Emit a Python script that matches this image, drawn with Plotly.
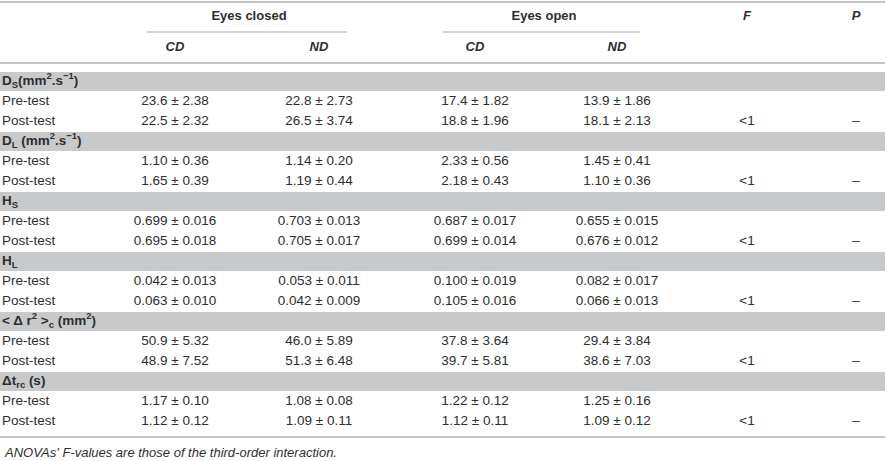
import plotly.graph_objects as go

# measures (group rows) and their values: order is EC-CD, EC-ND, EO-CD, EO-ND
measures = [
    "D<sub>S</sub>(mm<sup>2</sup>.s<sup>\u22121</sup>)",
    "D<sub>L</sub> (mm<sup>2</sup>.s<sup>\u22121</sup>)",
    "H<sub>S</sub>",
    "H<sub>L</sub>",
    "&lt; \u0394 r<sup>2</sup> &gt;<sub>c</sub> (mm<sup>2</sup>)",
    "\u0394t<sub>rc</sub> (s)",
]
mean_dec = [1, 2, 3, 3, 1, 2]
sd_dec = [2, 2, 3, 3, 2, 2]

pre_mean = [
    [23.6, 22.8, 17.4, 13.9],
    [1.10, 1.14, 2.33, 1.45],
    [0.699, 0.703, 0.687, 0.655],
    [0.042, 0.053, 0.100, 0.082],
    [50.9, 46.0, 37.8, 29.4],
    [1.17, 1.08, 1.22, 1.25],
]
pre_sd = [
    [2.38, 2.73, 1.82, 1.86],
    [0.36, 0.20, 0.56, 0.41],
    [0.016, 0.013, 0.017, 0.015],
    [0.013, 0.011, 0.019, 0.017],
    [5.32, 5.89, 3.64, 3.84],
    [0.10, 0.08, 0.12, 0.16],
]
post_mean = [
    [22.5, 26.5, 18.8, 18.1],
    [1.65, 1.19, 2.18, 1.10],
    [0.695, 0.705, 0.699, 0.676],
    [0.063, 0.042, 0.105, 0.066],
    [48.9, 51.3, 39.7, 38.6],
    [1.12, 1.09, 1.12, 1.09],
]
post_sd = [
    [2.32, 3.74, 1.96, 2.13],
    [0.39, 0.44, 0.43, 0.36],
    [0.018, 0.017, 0.014, 0.012],
    [0.010, 0.009, 0.016, 0.013],
    [7.52, 6.48, 5.81, 7.03],
    [0.12, 0.11, 0.11, 0.12],
]
f_values = ["&lt;1"] * 6
p_values = ["\u2013"] * 6

sessions = ["Pre-test", "Post-test"]
conditions = ["Eyes closed", "Eyes open"]
sub_cols = ["CD", "ND"]
footnote = "ANOVAs' F-values are those of the third-order interaction."

# layout (pixel units)
W, H = 887, 461
col_x = [175, 319, 475, 617]
f_x, p_x = 747, 856
row0, row_h = 81.5, 20
TXT = "#2e2e2e"
FONT = "Liberation Sans, Arial, sans-serif"
FS = 13.5
LINE = "#c4c4c4"
BAND = "#c8c9cb"

fig = go.Figure()
shapes = []

lab_x, lab_y, lab_t = [], [], []
val_x, val_y, val_t = [], [], []
row = 0
for g, name in enumerate(measures):
    yb = row0 + row_h * row
    shapes.append(dict(type="rect", x0=0, x1=885, y0=yb - 9.5, y1=yb + 9.5,
                       fillcolor=BAND, line=dict(width=0), layer="below"))
    lab_x.append(2)
    lab_y.append(yb)
    lab_t.append("<b>" + name + "</b>")
    row += 1
    for s, (means, sds) in enumerate([(pre_mean, pre_sd), (post_mean, post_sd)]):
        y = row0 + row_h * row
        lab_x.append(2)
        lab_y.append(y)
        lab_t.append(sessions[s])
        for c in range(4):
            val_x.append(col_x[c])
            val_y.append(y)
            val_t.append(f"{means[g][c]:.{mean_dec[g]}f} \u00b1 {sds[g][c]:.{sd_dec[g]}f}")
        if s == 1:
            val_x += [f_x, p_x]
            val_y += [y, y]
            val_t += [f_values[g], p_values[g]]
        row += 1

fig.add_trace(go.Scatter(x=lab_x, y=lab_y, text=lab_t, mode="text",
                         textposition="middle right",
                         textfont=dict(family=FONT, size=FS, color=TXT),
                         hoverinfo="skip"))
fig.add_trace(go.Scatter(x=val_x, y=val_y, text=val_t, mode="text",
                         textposition="middle center",
                         textfont=dict(family=FONT, size=FS, color=TXT),
                         hoverinfo="skip"))

# header
hx = [249, 544, f_x, p_x]
ht = ["<b>" + conditions[0] + "</b>", "<b>" + conditions[1] + "</b>", "<b><i>F</i></b>", "<b><i>P</i></b>"]
fig.add_trace(go.Scatter(x=hx, y=[17] * 4, text=ht, mode="text",
                         textfont=dict(family=FONT, size=13, color=TXT),
                         hoverinfo="skip"))
fig.add_trace(go.Scatter(x=col_x, y=[48] * 4,
                         text=["<b><i>" + sub_cols[i % 2] + "</i></b>" for i in range(4)],
                         mode="text", textfont=dict(family=FONT, size=13, color=TXT),
                         hoverinfo="skip"))

# rules
shapes += [
    dict(type="line", x0=0, x1=885, y0=2, y1=2, line=dict(color=LINE, width=2)),
    dict(type="line", x0=147, x1=347, y0=32, y1=32, line=dict(color=LINE, width=1.5)),
    dict(type="line", x0=443, x1=640, y0=32, y1=32, line=dict(color=LINE, width=1.5)),
    dict(type="line", x0=0, x1=885, y0=63, y1=63, line=dict(color=LINE, width=2)),
    dict(type="line", x0=0, x1=885, y0=437, y1=437, line=dict(color=LINE, width=2)),
]

fig.update_layout(
    width=W, height=H,
    margin=dict(l=0, r=0, t=0, b=0),
    paper_bgcolor="white", plot_bgcolor="white",
    showlegend=False,
    shapes=shapes,
    xaxis=dict(range=[0, W], visible=False, fixedrange=True),
    yaxis=dict(range=[H, 0], visible=False, fixedrange=True),
    annotations=[dict(x=2, y=452, xref="x", yref="y", xanchor="left", yanchor="middle",
                      text="<i>" + footnote + "</i>", showarrow=False,
                      font=dict(family=FONT, size=13, color=TXT))],
)

# the default page keeps an 8px body margin; drop it so the table sits at 0,0
fig.write_html("out.html", config={"displayModeBar": False},
               post_script="document.body.style.margin='0';")
